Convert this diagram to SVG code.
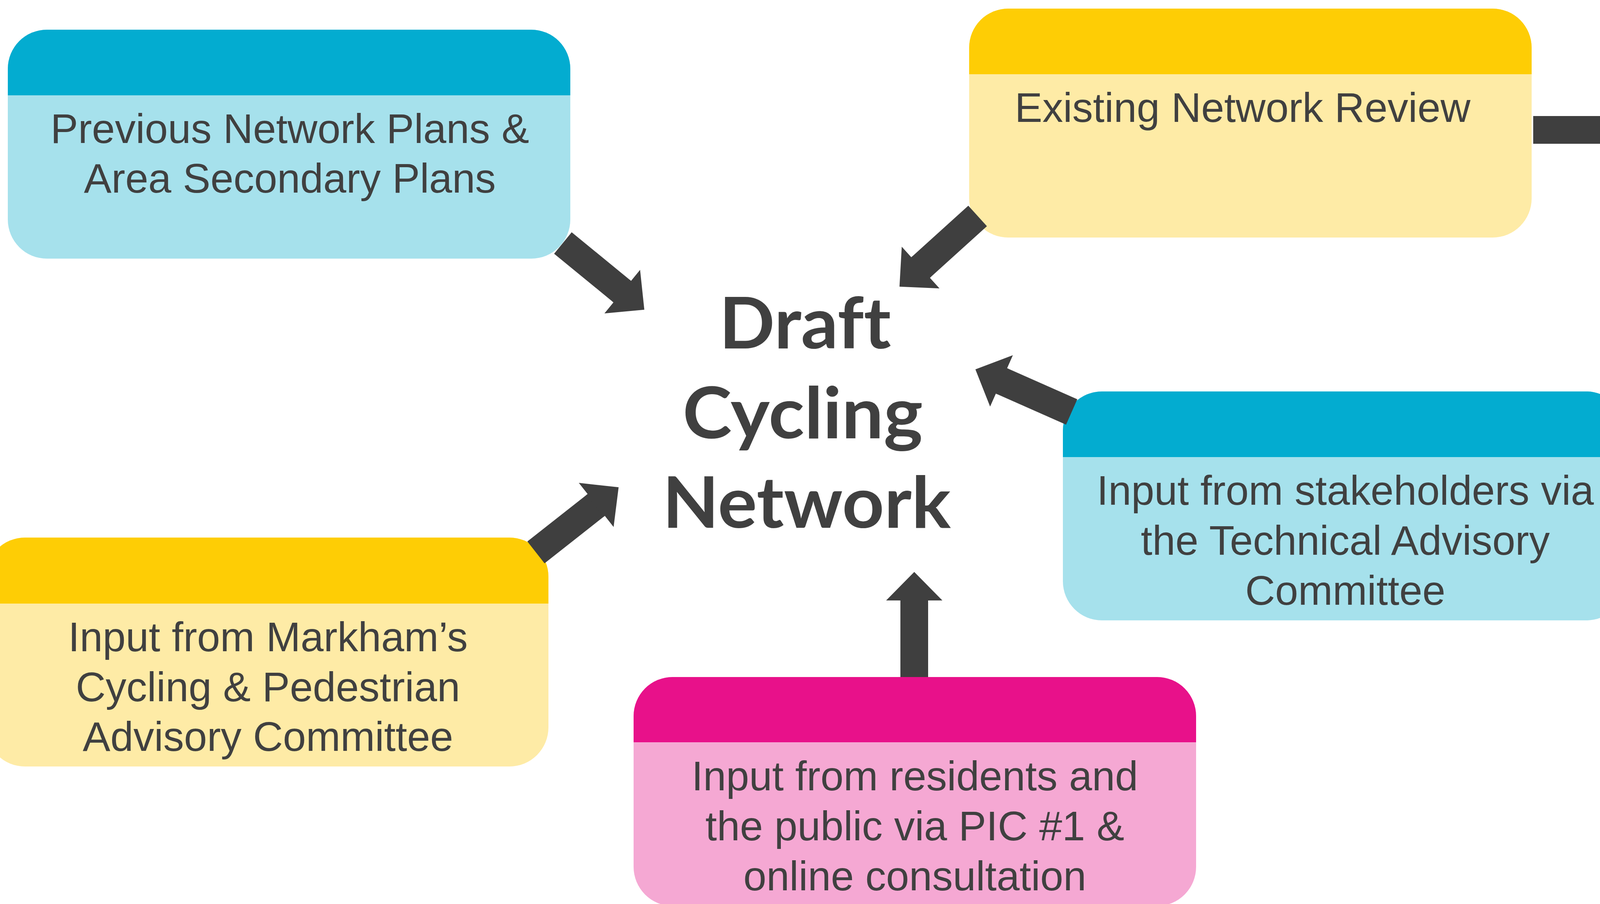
<svg xmlns="http://www.w3.org/2000/svg" width="4141" height="2314" viewBox="0 0 4141 2314">
  <style>
    .lbl { font-family: "Liberation Sans", Arial, sans-serif; font-size: 106px; fill: #404040; text-anchor: middle; }
    .title { font-family: Lato, "Open Sans", "Noto Sans", sans-serif; font-weight: 700; font-size: 182px; fill: #404040; text-anchor: middle; font-variant-ligatures: none; font-feature-settings: "liga" 0; }
    .arrow { fill: none; stroke: #3f3f3f; stroke-width: 71; stroke-linecap: butt; marker-end: url(#head); }
    .blue-h { fill: #03acd0; } .blue-b { fill: #a6e1ec; }
    .yel-h { fill: #fecd05; } .yel-b { fill: #feeba6; }
    .pink-h { fill: #e8118a; } .pink-b { fill: #f5a8d3; }
  </style>
  <defs>
    <marker id="head" markerUnits="userSpaceOnUse" viewBox="-4 -72 77 144" refX="0" refY="0" markerWidth="77" markerHeight="144" orient="auto" overflow="visible">
      <path d="M0,-72 L73,0 L0,72 Z M-4,-35.5 H1 V35.5 H-4 Z" fill="#3f3f3f"/>
    </marker>
  </defs>
  <rect width="4141" height="2314" fill="#ffffff"/>

  <g id="node-previous-plans">
    <rect class="blue-b" x="20" y="76" width="1440" height="586" rx="100" ry="100"/>
    <path class="blue-h" d="M20,244 V176 A100,100 0 0 1 120,76 H1360 A100,100 0 0 1 1460,176 V244 Z"/>
    <text class="lbl" x="742" y="366">Previous Network Plans &amp;</text>
    <text class="lbl" x="742" y="493">Area Secondary Plans</text>
  </g>

  <g id="node-existing-review">
    <rect class="yel-b" x="2481" y="22" width="1440" height="586" rx="100" ry="100"/>
    <path class="yel-h" d="M2481,190 V122 A100,100 0 0 1 2581,22 H3821 A100,100 0 0 1 3921,122 V190 Z"/>
    <text class="lbl" x="3181" y="312">Existing Network Review</text>
  </g>

  <g id="node-tac">
    <rect class="blue-b" x="2721" y="1002" width="1440" height="586" rx="100" ry="100"/>
    <path class="blue-h" d="M2721,1170 V1102 A100,100 0 0 1 2821,1002 H4061 A100,100 0 0 1 4161,1102 V1170 Z"/>
    <text class="lbl" x="3444" y="1292">Input from stakeholders via</text>
    <text class="lbl" x="3444" y="1420">the Technical Advisory</text>
    <text class="lbl" x="3444" y="1548">Committee</text>
  </g>

  <g id="node-markham-committee">
    <rect class="yel-b" x="-36" y="1376" width="1440" height="586" rx="100" ry="100"/>
    <path class="yel-h" d="M-36,1545 V1476 A100,100 0 0 1 64,1376 H1304 A100,100 0 0 1 1404,1476 V1545 Z"/>
    <text class="lbl" x="686" y="1667">Input from Markham’s</text>
    <text class="lbl" x="686" y="1795">Cycling &amp; Pedestrian</text>
    <text class="lbl" x="686" y="1922">Advisory Committee</text>
  </g>

  <g id="node-residents">
    <rect class="pink-b" x="1622" y="1733" width="1440" height="586" rx="100" ry="100"/>
    <path class="pink-h" d="M1622,1900 V1833 A100,100 0 0 1 1722,1733 H2962 A100,100 0 0 1 3062,1833 V1900 Z"/>
    <text class="lbl" x="2342" y="2023">Input from residents and</text>
    <text class="lbl" x="2342" y="2151">the public via PIC #1 &amp;</text>
    <text class="lbl" x="2342" y="2279">online consultation</text>
  </g>

  <g id="node-draft-network">
    <text class="title" x="2061" y="892" textLength="440" lengthAdjust="spacingAndGlyphs">Draft</text>
    <text class="title" x="2055" y="1122" textLength="615" lengthAdjust="spacingAndGlyphs">Cycling</text>
    <text class="title" x="2065" y="1351" textLength="738" lengthAdjust="spacingAndGlyphs">Network</text>
  </g>

  <g id="connectors">
    <path class="arrow" d="M1441,622 L1593,746.5"/>
    <path class="arrow" d="M2502.7,552.8 L2356.8,684.8"/>
    <path class="arrow" d="M2743.5,1054.5 L2563.8,975"/>
    <path class="arrow" d="M1372,1414 L1526.3,1292.5"/>
    <path class="arrow" d="M2340.5,1733 L2340.5,1537"/>
    <path class="arrow" d="M3925,332.5 L4122,332.5"/>
  </g>
</svg>
